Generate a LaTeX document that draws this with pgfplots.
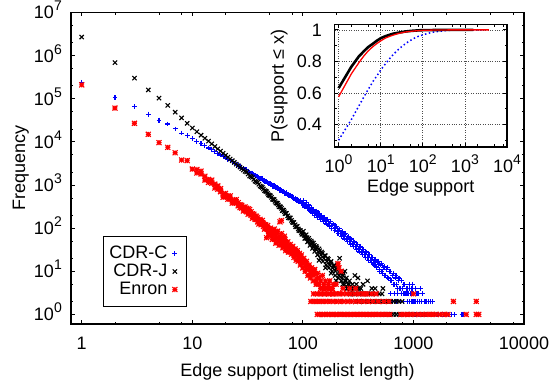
\documentclass[border=0pt]{standalone}
\usepackage{fontspec}
\setmainfont{Liberation Sans}
\usepackage{pgfplots}
\pgfplotsset{compat=1.18}
\usetikzlibrary{plotmarks}
\pgfdeclareplotmark{gpstar}{%
 \pgfpathmoveto{\pgfqpoint{-\pgfplotmarksize}{0pt}}\pgfpathlineto{\pgfqpoint{\pgfplotmarksize}{0pt}}%
 \pgfpathmoveto{\pgfqpoint{0pt}{-\pgfplotmarksize}}\pgfpathlineto{\pgfqpoint{0pt}{\pgfplotmarksize}}%
 \pgfpathmoveto{\pgfqpoint{-\pgfplotmarksize}{-\pgfplotmarksize}}\pgfpathlineto{\pgfqpoint{\pgfplotmarksize}{\pgfplotmarksize}}%
 \pgfpathmoveto{\pgfqpoint{-\pgfplotmarksize}{\pgfplotmarksize}}\pgfpathlineto{\pgfqpoint{\pgfplotmarksize}{-\pgfplotmarksize}}%
 \pgfusepathqstroke}
\newcommand\fs{\fontsize{18bp}{21bp}\selectfont}
\newcommand\tp[1]{10\raisebox{8bp}{\fontsize{14bp}{14bp}\selectfont #1}}
\pgfplotsset{
 gp/.style={only marks, legend image code/.code={\path[draw=none,fill=none] (0bp,0bp) -- (13bp,0bp); \draw[##1] plot coordinates {(6.5bp,0bp)};}},
}
\begin{document}
\fs
\begin{tikzpicture}
\useasboundingbox (-71bp,-61bp) rectangle (482bp,324bp);
\begin{axis}[at={(0bp,0bp)}, anchor=south west, scale only axis,
 width=453bp, height=311.5bp,
 xmode=log, ymode=log, xmin=0.8, xmax=10000, ymin=0.6, ymax=1e7,
 axis line style={line width=1.3bp},
 tick style={black, line width=0.8bp},
 major tick length=4bp, minor tick length=2.5bp, tick align=inside,
 xtick={1,10,100,1000,10000}, xticklabels={1,10,100,1000,10000},
 minor xtick={2,5,8,20,50,80,200,500,800,2000,5000,8000},
 ytick={1,10,100,1000,10000,100000,1000000,10000000},
 yticklabels={\tp{0},\tp{1},\tp{2},\tp{3},\tp{4},\tp{5},\tp{6},\tp{7}},
 minor ytick={2,5,20,50,200,500,2000,5000,20000,50000,200000,500000,2000000,5000000},
 xticklabel style={anchor=base, inner sep=0pt, text depth=0pt, yshift=-25.5bp},
 yticklabel style={anchor=base east, inner sep=0pt, xshift=-9bp, yshift=-6.5bp},
 xlabel={Edge support (timelist length)}, ylabel={Frequency},
 every axis x label/.style={at={(axis description cs:0.5,-0.1701)}, anchor=base, inner sep=0pt},
 every axis y label/.style={at={(axis description cs:-0.1015,0.5)}, rotate=90, anchor=base, inner sep=0pt},
 legend style={at={(0.0706,0.0546)}, anchor=south west, draw=black, line width=0.8bp,
   inner xsep=5bp, inner ysep=8bp, nodes={inner sep=1bp, text height=12.5bp, text depth=3.5bp}, row sep=0pt},
 legend cell align=right, legend plot pos=right,
]
\addplot[gp, blue, mark=+, mark size=2.4bp, mark options={line width=1.1bp}] table {
x y
1 240000
2 107000
3 65000
4 44000
5 32000
6 26000
7 20000
8 16000
9 14000
10 12000
11 10400
12 9130
13 8100
14 7240
15 6530
16 5930
17 5410
18 4970
19 4580
20 4240
21 3950
22 3680
23 3440
24 3230
25 3040
26 2860
27 2700
28 2560
29 2430
30 2310
31 2280
32 2100
33 1940
34 1900
35 1880
36 1760
37 1640
38 1620
39 1600
40 1500
41 1390
42 1400
43 1400
44 1300
45 1220
46 1210
47 1220
48 1140
49 1060
50 1070
51 1080
52 1010
53 940
54 955
55 960
56 906
57 850
58 860
59 870
60 816
61 760
62 778
63 800
64 740
65 690
66 707
67 720
68 675
69 630
70 648
71 665
73 608
74 575
76 572
77 590
79 540
80 505
82 512
83 525
85 484
86 450
88 460
89 470
91 437
92 405
94 416
95 430
97 395
98 365
100 373
103 345
106 340
109 315
112 305
115 280
118 278
121 255
124 250
127 232
130 232
134 205
138 205
142 185
146 185
150 168
155 165
160 148
165 150
170 128
175 130
180 116
186 118
192 100
198 104
205 86
212 90
219 75
226 78
233 66
240 70
248 58
256 61
264 50
272 54
281 44
290 47
299 38
308 42
318 33
328 36
338 28
349 32
360 25
371 28
383 21
395 24
407 18
420 21
433 15
446 18
460 13
474 16
489 11
504 14
520 10
536 12
553 8
570 11
588 7
606 10
625 6
644 8
664 5
685 7
706 5
728 6
750 4
773 6
797 4
822 5
848 3
874 4
901 3
929 4
930 5
958 2
980 5
988 3
1050 4
1150 4
101 430
104 310
107 390
110 290
113 345
116 250
119 305
122 225
125 275
128 200
132 250
136 180
140 220
144 160
148 200
153 140
158 175
163 125
168 158
173 112
178 140
183 100
189 125
195 88
201 110
208 74
215 96
222 64
229 84
236 56
244 74
252 49
260 64
268 42
277 56
286 37
295 48
304 32
314 42
324 28
334 37
344 24
355 32
366 21
378 28
390 18
402 25
414 16
427 21
440 14
453 19
467 12
481 17
496 10
512 15
528 9
545 13
562 8
579 12
597 7
615 10
635 6
655 9
675 5
696 8
718 4
740 7
763 4
786 6
810 3
835 5
860 4
887 3
914 5
942 3
970 4
1000 3
1030 2
620 3
680 3
720 3
780 3
830 3
870 3
950 3
1010 3
1060 3
1100 3
1200 3
650 2
700 2
760 2
820 2
880 2
930 2
990 2
1040 2
1090 2
1140 2
1190 2
1250 2
1300 2
1360 2
1420 2
1480 2
1050 1
1120 1
1180 1
1250 1
1320 1
1390 1
1460 1
1540 1
1620 1
1700 1
1790 1
1880 1
1980 1
2080 1
2200 1
2350 1
2750 1
2850 1
};
\addlegendentry{CDR-C}
\addplot[gp, black, mark=x, mark size=3bp, mark options={line width=1.1bp}] table {
x y
1 2700000
2 690000
3 300000
4 160000
5 104000
6 70000
7 49000
8 36000
9 27000
10 21000
11 17200
12 14300
13 12100
14 10400
15 8960
16 7820
17 6890
18 6110
19 5460
20 4900
21 4430
22 4010
23 3660
24 3340
25 3060
26 2820
27 2600
28 2410
29 2230
30 2070
31 2000
32 1800
33 1620
34 1560
35 1500
36 1350
37 1230
38 1190
39 1140
40 1040
41 950
42 920
43 880
44 811
45 740
46 720
47 700
48 641
49 590
50 575
51 560
52 517
53 470
54 465
55 460
56 420
57 385
58 380
59 375
60 346
61 315
62 314
63 310
64 287
65 255
66 262
67 260
68 240
69 218
70 221
71 220
73 194
74 175
76 172
77 172
79 152
80 138
82 135
83 135
85 120
86 108
88 107
89 110
91 96
92 88
94 87
95 88
97 79
98 72
100 72
103 68
106 58
109 60
112 50
115 52
118 43
121 46
124 38
127 40
130 33
134 35
138 28
140 18
142 30
146 24
150 26
155 20
160 23
160 12
165 17
170 19
175 14
180 17
180 9
186 12
192 14
198 10
200 6
205 12
205 14
212 8
215 20
219 10
226 7
230 5
233 9
240 6
240 10
248 7
250 4
256 5
264 6
270 3
272 4
281 5
290 4
295 8
299 3
308 4
315 7
318 3
328 3
350 5
385 6
420 4
450 4
530 4
101 85
104 58
107 70
110 48
113 58
116 40
119 50
122 34
125 45
128 29
132 38
136 24
140 33
144 20
148 28
152 17
157 23
162 14
167 20
172 12
178 16
184 10
190 13
196 8
202 11
209 7
216 9
223 6
230 8
238 5
246 6
254 4
262 5
276 4
286 3
305 5
320 4
335 4
265 3
280 3
340 3
355 3
370 3
390 3
410 3
430 3
460 3
490 3
520 3
300 2
320 2
340 2
360 2
380 2
400 2
425 2
450 2
475 2
500 2
530 2
560 2
590 2
620 2
660 2
700 2
740 2
790 2
480 1
510 1
540 1
570 1
600 1
630 1
660 1
700 1
740 1
780 1
830 1
880 1
930 1
990 1
1100 1
1250 1
1500 1
1600 1
};
\addlegendentry{CDR-J}
\addplot[gp, red, mark=gpstar, mark size=2.5bp, mark options={line width=1.1bp}] table {
x y
1 210000
2 61000
3 27000
4 15000
5 9600
6 7500
7 5600
8 3800
9 3700
10 2350
11 2300
12 1800
13 1300
14 1350
15 1100
16 1050
17 800
18 700
19 620
20 540
21 560
22 470
23 430
24 450
25 380
26 330
27 350
28 290
29 300
30 260
31 240
32 280
33 230
34 200
35 215
36 180
37 190
38 160
39 175
40 150
41 130
42 145
43 125
44 110
45 120
46 100
47 105
47 60
48 95
49 85
50 90
52 80
53 55
54 70
55 95
56 72
57 45
58 60
59 85
60 62
61 40
62 140
63 52
64 150
64 75
65 50
66 35
67 45
68 65
69 48
70 30
71 42
73 38
74 28
75 35
77 33
79 30
81 32
83 26
85 28
87 23
89 25
91 20
93 22
95 18
97 19
100 15
102 17
105 13
108 14
111 11
114 12
117 9
120 10
124 8
128 9
132 6
136 7
140 5
145 6
150 4
155 5
160 4
165 4
170 5
175 6
180 4
190 3
190 5
200 5
208 15
212 12
222 10
230 4
265 4
300 4
365 3
11 1900
12 2100
13 1600
14 1150
15 1300
16 850
17 950
18 820
19 520
20 640
21 470
22 560
23 380
24 390
25 460
26 390
27 300
28 340
29 250
30 310
31 290
32 210
33 270
34 240
35 170
36 210
37 160
38 190
39 140
40 125
41 160
42 120
43 150
44 130
45 95
46 120
48 115
49 70
50 75
51 100
52 65
54 85
56 55
58 75
60 50
62 65
63 42
65 60
67 38
69 55
71 34
73 48
75 28
77 42
79 25
81 38
83 21
85 33
87 18
89 30
91 17
93 26
95 14
97 24
100 12
102 20
105 10
108 17
111 8
114 14
117 7
120 12
124 6
128 11
132 5
136 9
140 7
145 4
150 8
155 3
160 6
170 3
175 4
185 4
125 3
135 3
145 3
158 3
172 3
185 3
200 3
215 3
230 3
250 3
270 3
295 3
320 3
350 3
380 3
420 3
460 3
1000 3
118 2
126 2
134 2
142 2
152 2
162 2
175 2
188 2
202 2
218 2
235 2
255 2
275 2
300 2
325 2
355 2
390 2
430 2
480 2
540 2
600 2
2300 2
3700 2
135 1
142 1
150 1
158 1
166 1
175 1
185 1
196 1
207 1
219 1
232 1
246 1
261 1
277 1
294 1
312 1
332 1
353 1
376 1
400 1
425 1
452 1
480 1
510 1
542 1
576 1
612 1
770 1
820 1
880 1
950 1
1030 1
1120 1
1200 1
1300 1
1390 1
1480 1
1600 1
1750 1
1900 1
2050 1
3000 1
3700 1
3900 1
};
\addlegendentry{Enron}
\end{axis}
\begin{axis}[at={(263.5bp,177bp)}, anchor=south west, scale only axis,
 width=172.5bp, height=122.5bp,
 xmode=log, xmin=0.8, xmax=10000, ymin=0.257, ymax=1.034,
 axis background/.style={fill=white},
 axis line style={line width=1.3bp},
 tick style={black, line width=0.8bp},
 major tick length=4bp, minor tick length=2.5bp, tick align=inside,
 grid=major, grid style={dotted, line width=0.7bp, black!70},
 xtick={1,10,100,1000,10000}, xticklabels={\tp{0},\tp{1},\tp{2},\tp{3},\tp{4}},
 minor xtick={2,5,8,20,50,80,200,500,800,2000,5000,8000},
 ytick={0.4,0.6,0.8,1}, yticklabels={0.4,0.6,0.8,1},
 minor ytick={0.3,0.5,0.7,0.9},
 xticklabel style={anchor=base, inner sep=0pt, text depth=0pt, yshift=-26bp},
 yticklabel style={anchor=base east, inner sep=0pt, xshift=-12.5bp, yshift=-6.5bp},
 xlabel={Edge support}, ylabel={P(support ≤ x)},
 every axis x label/.style={at={(axis description cs:0.5,-0.3755)}, anchor=base, inner sep=0pt},
 every axis y label/.style={at={(axis description cs:-0.2928,0.5)}, rotate=90, anchor=base, inner sep=0pt},
]
\addplot[blue, line width=1.5bp, dash pattern=on 1.5bp off 2.5bp] table {
x y
1 0.30
2 0.43
3 0.515
4 0.575
5 0.62
6 0.655
7 0.685
8 0.705
10 0.745
13 0.785
16 0.815
20 0.845
25 0.87
32 0.895
40 0.915
50 0.932
63 0.947
80 0.96
100 0.968
130 0.977
160 0.983
200 0.988
250 0.991
320 0.994
400 0.996
500 0.998
700 0.999
1000 1
3000 1
};
\addplot[black, line width=2.6bp] table {
x y
1 0.63
2 0.765
3 0.83
4 0.865
5 0.89
6 0.905
7 0.918
8 0.93
10 0.947
13 0.96
16 0.968
20 0.976
25 0.981
32 0.986
40 0.99
50 0.993
63 0.995
80 0.997
100 0.998
200 0.999
400 1
1600 1
};
\addplot[red, line width=1.3bp] table {
x y
1 0.575
2 0.72
3 0.79
4 0.835
5 0.865
6 0.885
7 0.9
8 0.912
10 0.93
13 0.948
16 0.958
20 0.967
25 0.975
32 0.982
40 0.987
50 0.99
63 0.993
80 0.995
100 0.997
200 0.999
500 1
3700 1
};
\end{axis}
\end{tikzpicture}
\end{document}
